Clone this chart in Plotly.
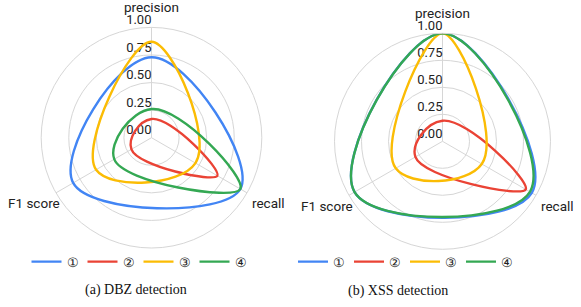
import math
import plotly.graph_objects as go

# ---- data ----
categories = ["precision", "recall", "F1 score"]
series_names = ["①", "②", "③", "④"]
series_colors = ["#4285F4", "#EA4335", "#FBBC04", "#34A853"]

# (a) DBZ detection: values for precision, recall, F1 score
dbz_1 = [0.73, 0.93, 0.82]
dbz_2 = [0.17, 0.69, 0.21]
dbz_3 = [0.87, 0.46, 0.58]
dbz_4 = [0.26, 0.93, 0.39]

# (b) XSS detection
xss_1 = [1.00, 0.955, 0.94]
xss_2 = [0.19, 0.89, 0.29]
xss_3 = [1.00, 0.42, 0.50]
xss_4 = [1.00, 0.935, 0.94]

radial_ticks = [0.0, 0.25, 0.50, 0.75, 1.00]
radial_tick_labels = ["0.00", "0.25", "0.50", "0.75", "1.00"]
captions = ["(a) DBZ detection", "(b) XSS detection"]

W, H = 581, 307
SANS = "Roboto, 'Noto Sans', Arial, sans-serif"
SERIF = "'Liberation Serif', 'Times New Roman', serif"
TXT = "#222222"
GRID = "#d6d6d6"

# panel geometry (pixels): centre x, centre y, radius of the 1.00 ring
panels = [
    dict(subplot="polar", legend="legend", data=[dbz_1, dbz_2, dbz_3, dbz_4],
         cx=151.5, cy=137.7, rad=110.3, legend_x=138.5, caption_x=135.5, caption_y=290),
    dict(subplot="polar2", legend="legend2", data=[xss_1, xss_2, xss_3, xss_4],
         cx=442.5, cy=141.3, rad=108.0, legend_x=405.0, caption_x=398.0, caption_y=291),
]

fig = go.Figure()
layout_polars = {}
annotations = []

for idx, p in enumerate(panels):
    subplot = p["subplot"]
    # radial tick labels drawn along the precision spoke
    fig.add_trace(go.Scatterpolar(
        r=radial_ticks,
        theta=[categories[0]] * len(radial_ticks),
        text=radial_tick_labels,
        mode="text",
        textposition="top left",
        textfont=dict(family=SANS, size=13, color=TXT),
        showlegend=False,
        hoverinfo="skip",
        subplot=subplot,
    ))
    for name, color, vals in zip(series_names, series_colors, p["data"]):
        fig.add_trace(go.Scatterpolar(
            r=list(vals) + [vals[0]],
            theta=categories + [categories[0]],
            mode="lines",
            line=dict(color=color, width=2.4, shape="spline", smoothing=1.3),
            name=name,
            legend=p["legend"],
            subplot=subplot,
            hoverinfo="skip",
        ))

    cx, cy, rad = p["cx"], p["cy"], p["rad"]
    layout_polars[subplot] = dict(
        domain=dict(x=[(cx - rad) / W, (cx + rad) / W],
                    y=[1 - (cy + rad) / H, 1 - (cy - rad) / H]),
        bgcolor="white",
        gridshape="circular",
        radialaxis=dict(range=[0, 1], tickvals=radial_ticks[1:],
                        showticklabels=False, showline=False, ticks="",
                        gridcolor=GRID, gridwidth=1),
        angularaxis=dict(direction="clockwise", rotation=90,
                         type="category", categoryarray=categories,
                         gridcolor=GRID, gridwidth=1,
                         showline=True, linecolor=GRID, linewidth=1,
                         ticks="", showticklabels=False),
    )

    # category (spoke) labels placed around the outer ring
    cos30 = math.cos(math.radians(30))
    lab_font = dict(family=SANS, size=13.5, color=TXT)
    annotations += [
        dict(text=categories[0], x=cx / W, y=1 - (cy - rad - 20.5) / H,
             xanchor="center", yanchor="middle", font=lab_font),
        dict(text=categories[1], x=(cx + rad * cos30 + 3) / W, y=1 - (cy + rad * 0.5 + 10.5) / H,
             xanchor="left", yanchor="middle", font=lab_font),
        dict(text=categories[2], x=(cx - rad * cos30 + 6.5) / W, y=1 - (cy + rad * 0.5 + 10.5) / H,
             xanchor="right", yanchor="middle", font=lab_font),
        dict(text=captions[idx], x=p["caption_x"] / W, y=1 - p["caption_y"] / H,
             xanchor="center", yanchor="middle",
             font=dict(family=SERIF, size=14, color="#111")),
    ]

for a in annotations:
    a.update(xref="paper", yref="paper", showarrow=False)

legend_common = dict(
    orientation="h",
    xanchor="center",
    yanchor="middle",
    font=dict(family=SANS, size=13, color=TXT),
    bgcolor="rgba(0,0,0,0)",
    itemclick=False,
    itemdoubleclick=False,
    tracegroupgap=0,
    entrywidth=11,
)

fig.update_layout(
    width=W, height=H,
    margin=dict(l=0, r=0, t=0, b=0),
    paper_bgcolor="white",
    plot_bgcolor="white",
    legend=dict(x=panels[0]["legend_x"] / W, y=1 - 261.7 / H, **legend_common),
    legend2=dict(x=panels[1]["legend_x"] / W, y=1 - 261.7 / H, **legend_common),
    annotations=annotations,
    **layout_polars,
)

fig.write_html(
    "out.html",
    config={"displayModeBar": False},
    post_script="document.body.style.margin='0';document.body.style.padding='0';",
)
